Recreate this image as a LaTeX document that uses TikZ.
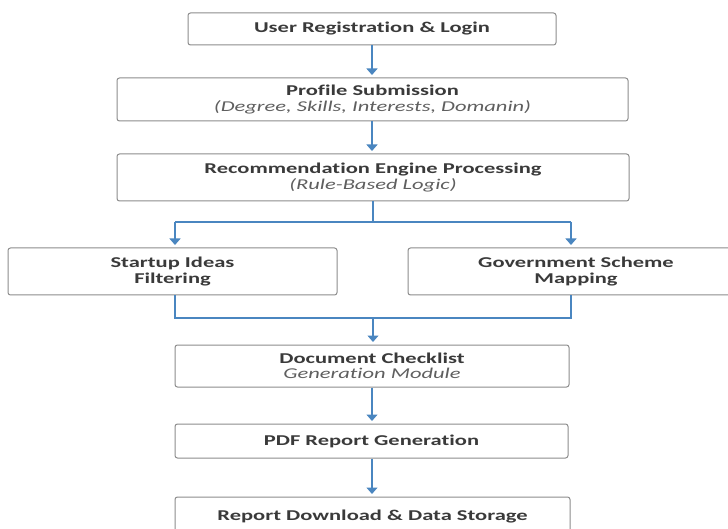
\documentclass[tikz,border=0pt]{standalone}
\usepackage{fontspec}
\setmainfont{Carlito}[FakeStretch=1.5, Ligatures={NoCommon}]
\usetikzlibrary{arrows.meta}
\definecolor{txt}{RGB}{58,58,58}
\definecolor{itx}{RGB}{95,95,95}
\definecolor{bord}{RGB}{140,140,140}
\definecolor{arrc}{RGB}{74,134,192}
\tikzset{
  box/.style={draw=bord, line width=1pt, rounded corners=2.5pt, fill=white, inner sep=0pt,
    align=center, text=txt, font=\fontsize{15}{15.5}\selectfont\bfseries},
  link/.style={draw=arrc, line width=1.3pt},
  arr/.style={link, -{Triangle[width=11pt,length=6.5pt]}, shorten >=2.5pt}
}
\newcommand{\subt}[1]{{\mdseries\itshape\color{itx}#1}}
\begin{document}
\begin{tikzpicture}[x=1pt,y=-1pt]
\useasboundingbox[fill=white] (0,0) rectangle (728,529);
\node[box, minimum width=368pt, minimum height=32pt] (b1) at (372,29) {User Registration \& Login};
\node[box, minimum width=511pt, minimum height=43pt] (b2) at (372.5,99.5) {Profile Submission\\\subt{(Degree, Skills, Interests, Domanin)}};
\node[box, minimum width=512pt, minimum height=47pt] (b3) at (373,177.5) {Recommendation Engine Processing\\\subt{(Rule-Based Logic)}};
\node[box, minimum width=329pt, minimum height=47pt] (bl) at (172.5,271.5) {Startup Ideas\\Filtering};
\node[box, minimum width=336pt, minimum height=47pt] (br) at (576,271.5) {Government Scheme\\Mapping};
\node[box, minimum width=394pt, minimum height=42pt] (dc) at (372,366) {Document Checklist\\\subt{Generation Module}};
\node[box, minimum width=393pt, minimum height=34pt] (pdf) at (371.5,441) {PDF Report Generation};
\node[box, minimum width=395pt, minimum height=40pt] (rd) at (372.5,517) {Report Download \& Data Storage};
\coordinate (sc) at (373,222);
\coordinate (sl) at (175,222);
\coordinate (sr) at (571,222);
\coordinate (ml) at (175,318);
\coordinate (mr) at (571,318);
\coordinate (mc) at (373,318);
\draw[arr] (b1.south -| 372,0) -- (b2.north -| 372,0);
\draw[arr] (b2.south -| 372,0) -- (b3.north -| 372,0);
\draw[link] (b3.south -| sc) -- (sc);
\draw[link] (sl) -- (sr);
\draw[arr] (sl) -- (sl |- bl.north);
\draw[arr] (sr) -- (sr |- br.north);
\draw[link] (ml |- bl.south) -- (ml) -- (mr) -- (mr |- br.south);
\draw[arr] (mc) -- (mc |- dc.north);
\draw[arr] (dc.south -| 372,0) -- (pdf.north -| 372,0);
\draw[arr] (pdf.south -| 372,0) -- (rd.north -| 372,0);
\end{tikzpicture}
\end{document}
